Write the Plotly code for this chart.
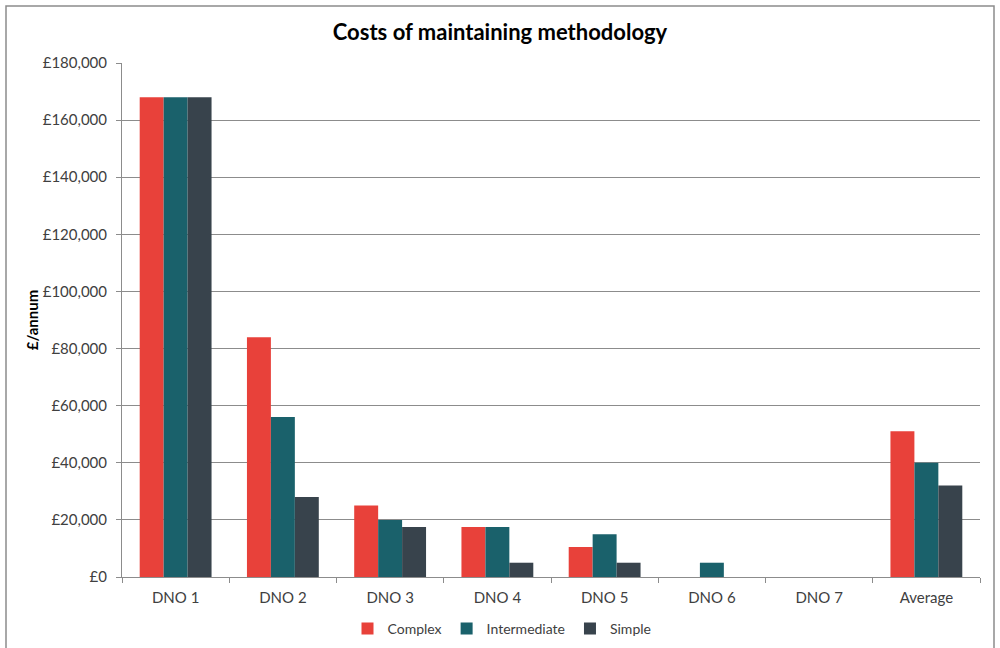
import plotly.graph_objects as go

# Categories and annual maintenance cost (£/annum) per methodology
categories = ["DNO 1", "DNO 2", "DNO 3", "DNO 4", "DNO 5", "DNO 6", "DNO 7", "Average"]
complex_cost = [168000, 84000, 25000, 17500, 10500, 0, 0, 51000]
intermediate_cost = [168000, 56000, 20000, 17500, 15000, 5000, 0, 40000]
simple_cost = [168000, 28000, 17500, 5000, 5000, 0, 0, 32000]
y_ticks = [0, 20000, 40000, 60000, 80000, 100000, 120000, 140000, 160000, 180000]
y_tick_labels = ["£0", "£20,000", "£40,000", "£60,000", "£80,000", "£100,000",
                 "£120,000", "£140,000", "£160,000", "£180,000"]

FONT = "Lato, 'Open Sans', sans-serif"
TEXT = "#404040"

fig = go.Figure()
for name, vals, color in [
    ("Complex", complex_cost, "#E8413A"),
    ("Intermediate", intermediate_cost, "#1A616B"),
    ("Simple", simple_cost, "#38434C"),
]:
    fig.add_trace(go.Bar(name=name, x=categories, y=vals,
                         marker=dict(color=color, line=dict(width=0))))

fig.update_layout(
    width=1000, height=648,
    paper_bgcolor="white", plot_bgcolor="white",
    margin=dict(l=122, r=20, t=63, b=71, autoexpand=False),
    barmode="group", bargap=0.33, bargroupgap=0,
    font=dict(family=FONT, size=15, color=TEXT),
    title=dict(text="<b>Costs of maintaining methodology</b>",
               x=0.5, xanchor="center", y=1 - 32 / 648, yanchor="middle",
               font=dict(family=FONT, size=22, color="#000000")),
    legend=dict(orientation="h", x=(502 - 122) / 858, xanchor="center",
                y=(577 - 629) / 514, yanchor="middle",
                bgcolor="rgba(0,0,0,0)",
                font=dict(family=FONT, size=14, color=TEXT),
                itemwidth=30, traceorder="normal"),
    showlegend=True,
    shapes=[dict(type="rect", xref="paper", yref="paper",
                 x0=-116 / 858, x1=(994 - 122) / 858,
                 y0=-(648 - 577 + 4) / 514, y1=(577 - 6) / 514,
                 line=dict(color="#8C8C8C", width=1.5), fillcolor="rgba(0,0,0,0)",
                 layer="below")],
)

fig.update_xaxes(
    type="category", showline=True, linecolor="#8C8C8C", linewidth=1,
    ticks="outside", tickson="boundaries", ticklen=5, tickcolor="#8C8C8C",
    ticklabelstandoff=7,
    showgrid=False, tickfont=dict(family=FONT, size=15, color=TEXT),
)
fig.update_yaxes(
    range=[0, 180000], tickvals=y_ticks, ticktext=y_tick_labels,
    showline=True, linecolor="#8C8C8C", linewidth=1,
    ticks="outside", ticklen=5, tickcolor="#8C8C8C",
    ticklabelstandoff=6,
    showgrid=True, gridcolor="#8C8C8C", gridwidth=1, zeroline=False,
    tickfont=dict(family=FONT, size=15, color=TEXT),
    title=dict(text="<b>£/annum</b>", standoff=0,
               font=dict(family=FONT, size=15, color="#000000")),
)

fig.write_html("out.html")
